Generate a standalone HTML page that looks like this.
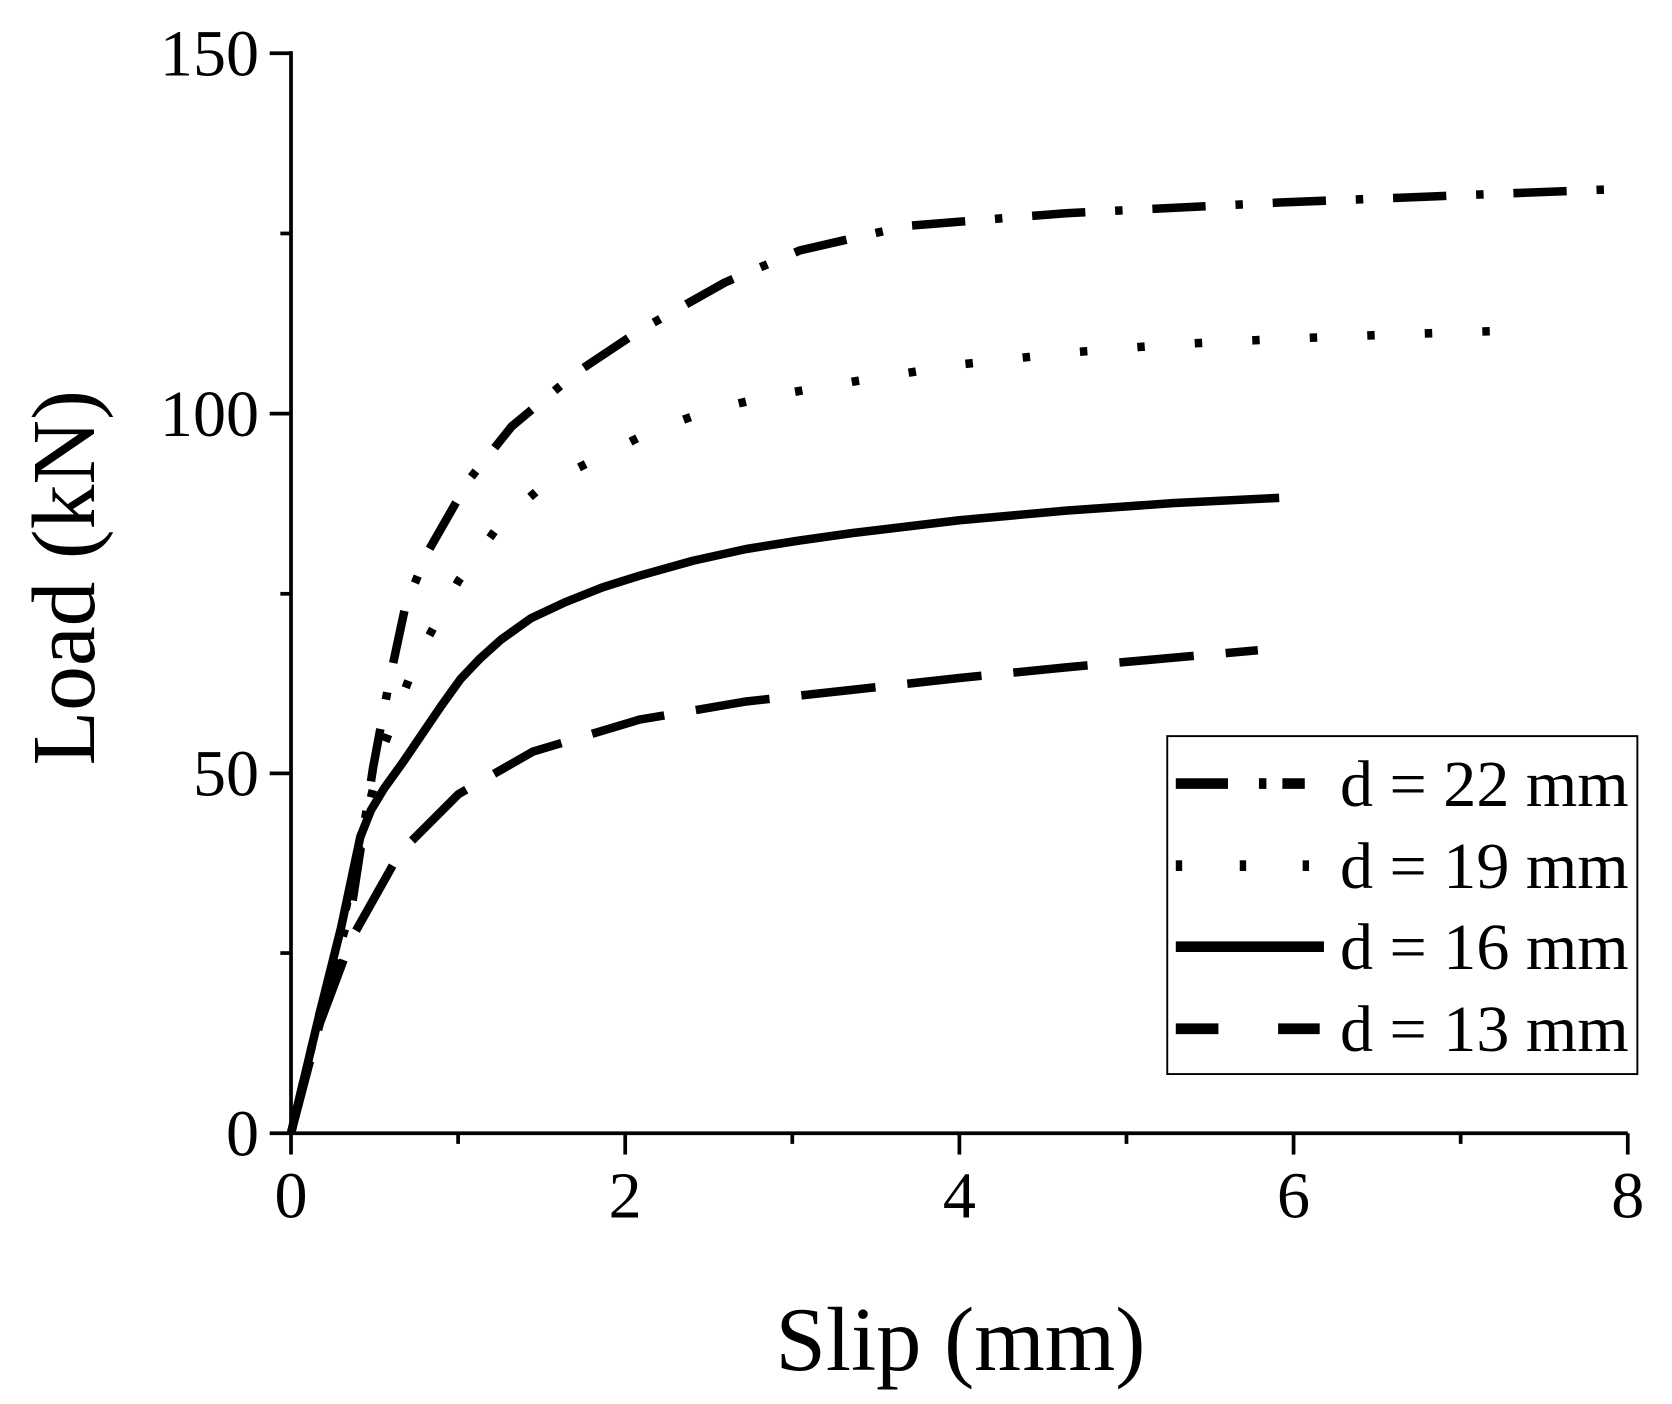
<!DOCTYPE html>
<html><head><meta charset="utf-8"><style>html,body{margin:0;padding:0;background:#fff;}svg{display:block;}</style></head>
<body>
<svg width="1672" height="1404" viewBox="0 0 1568.5 1317" preserveAspectRatio="none" xmlns="http://www.w3.org/2000/svg" font-family="'Liberation Serif', serif">
<rect x="0" y="0" width="1568.5" height="1317" fill="#fff"/>
<g stroke="#000" stroke-width="3.5" fill="none">
<line x1="273" y1="48" x2="273" y2="1063"/>
<line x1="271" y1="1063" x2="1527" y2="1063"/>
<line x1="253" y1="50" x2="273" y2="50"/>
<line x1="253" y1="388" x2="273" y2="388"/>
<line x1="253" y1="725.5" x2="273" y2="725.5"/>
<line x1="253" y1="1063" x2="273" y2="1063"/>
<line x1="263" y1="219" x2="273" y2="219"/>
<line x1="263" y1="557" x2="273" y2="557"/>
<line x1="263" y1="894" x2="273" y2="894"/>
<line x1="273" y1="1063" x2="273" y2="1083"/>
<line x1="586.5" y1="1063" x2="586.5" y2="1083"/>
<line x1="900" y1="1063" x2="900" y2="1083"/>
<line x1="1213.5" y1="1063" x2="1213.5" y2="1083"/>
<line x1="1527" y1="1063" x2="1527" y2="1083"/>
<line x1="429.75" y1="1063" x2="429.75" y2="1073"/>
<line x1="743.25" y1="1063" x2="743.25" y2="1073"/>
<line x1="1056.75" y1="1063" x2="1056.75" y2="1073"/>
<line x1="1370.25" y1="1063" x2="1370.25" y2="1073"/>
</g>
<g font-size="62" fill="#000">
<text x="243" y="71" text-anchor="end">150</text>
<text x="243" y="409" text-anchor="end">100</text>
<text x="243" y="746" text-anchor="end">50</text>
<text x="243" y="1084" text-anchor="end">0</text>
<text x="273" y="1142" text-anchor="middle">0</text>
<text x="586.5" y="1142" text-anchor="middle">2</text>
<text x="900" y="1142" text-anchor="middle">4</text>
<text x="1213.5" y="1142" text-anchor="middle">6</text>
<text x="1527" y="1142" text-anchor="middle">8</text>
</g>
<text x="901" y="1285" font-size="85" text-anchor="middle">Slip (mm)</text>
<text transform="translate(88,542) rotate(-90)" font-size="84" text-anchor="middle">Load (kN)</text>
<g fill="none" stroke="#000" stroke-width="8" stroke-linejoin="round">
<polyline stroke-dasharray="50 28 7 28" points="273,1063 300,950 330,850 350,720 365,640 380,570 400,520 440,450 480,400 540,350 600,310 680,265 750,235 850,212 1000,200 1200,190 1400,182 1527,177"/>
<polyline stroke-dasharray="7 47" points="273,1063 310,920 340,780 360,700 390,620 430,545 470,490 510,455 560,430 610,405 665,385 720,372 800,358 900,342 1000,331 1100,323 1200,318 1300,314 1420,310"/>
<polyline points="273,1063 300,950 320,870 338,785 348,760 360,740 378,715 395,690 414,662 432,637 450,618 470,600 498,580 530,565 565,551 600,540 650,526 700,515 750,507 800,500 900,488 1000,479 1100,472 1200,467"/>
<polyline stroke-dasharray="70 30" points="273,1063 300,960 330,880 375,800 430,745 500,705 600,675 700,658 800,647 900,636 1000,626 1100,617 1180,610"/>
</g>
<rect x="1095" y="690.5" width="441" height="317" fill="none" stroke="#000" stroke-width="1.8"/>
<g stroke="#000" stroke-width="10">
<line x1="1103" y1="735" x2="1152" y2="735"/>
<line x1="1181" y1="735" x2="1188" y2="735"/>
<line x1="1203" y1="735" x2="1224" y2="735"/>
<line x1="1103" y1="812" x2="1109" y2="812"/>
<line x1="1163" y1="812" x2="1169" y2="812"/>
<line x1="1222" y1="812" x2="1228" y2="812"/>
<line x1="1103" y1="888" x2="1242" y2="888"/>
<line x1="1103" y1="965" x2="1143" y2="965"/>
<line x1="1199" y1="965" x2="1238" y2="965"/>
</g>
<g font-size="62" fill="#000">
<text x="1257" y="756">d = 22 mm</text>
<text x="1257" y="833">d = 19 mm</text>
<text x="1257" y="909">d = 16 mm</text>
<text x="1257" y="986">d = 13 mm</text>
</g>
</svg>
</body></html>
